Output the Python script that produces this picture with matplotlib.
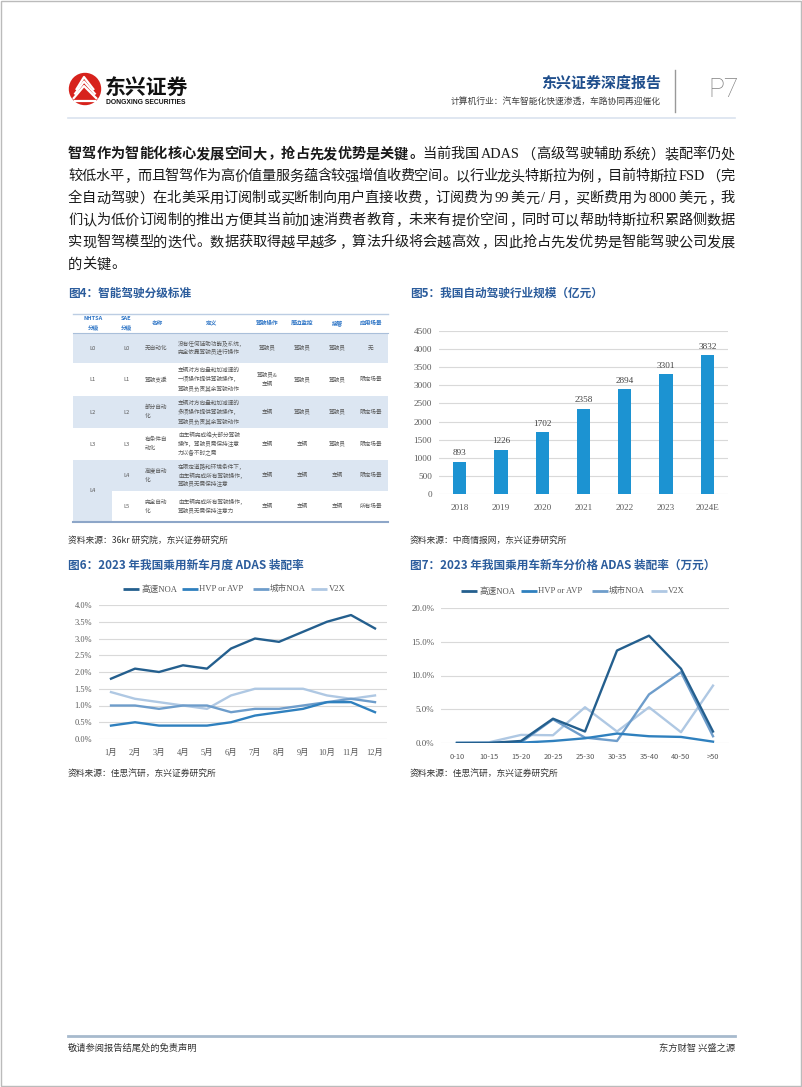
import re
import numpy as np
import matplotlib
matplotlib.use("Agg")
import matplotlib.pyplot as plt
from matplotlib.patches import Rectangle, Circle
from matplotlib.ticker import FuncFormatter

plt.rcParams['font.family'] = ['Noto Sans CJK SC', 'DejaVu Sans']
SERIF = ['Liberation Serif', 'Noto Sans CJK SC']

# --- 数据 ---
years = ['2018', '2019', '2020', '2021', '2022', '2023', '2024E']
market_size = [893, 1226, 1702, 2358, 2894, 3301, 3832]

months = ['1月', '2月', '3月', '4月', '5月', '6月', '7月', '8月', '9月', '10月', '11月', '12月']
month_noa_hw = [1.8, 2.1, 2.0, 2.2, 2.1, 2.7, 3.0, 2.9, 3.2, 3.5, 3.7, 3.3]
month_hvp = [0.4, 0.5, 0.4, 0.4, 0.4, 0.5, 0.7, 0.8, 0.9, 1.1, 1.1, 0.8]
month_noa_city = [1.0, 1.0, 0.9, 1.0, 1.0, 0.8, 0.9, 0.9, 1.0, 1.1, 1.2, 1.1]
month_v2x = [1.4, 1.2, 1.1, 1.0, 0.9, 1.3, 1.5, 1.5, 1.5, 1.3, 1.2, 1.3]

price_bins = ['0-10', '10-15', '15-20', '20-25', '25-30', '30-35', '35-40', '40-50', '>50']
price_noa_hw = [0.0, 0.0, 0.3, 3.6, 1.7, 13.7, 15.9, 11.0, 1.7]
price_hvp = [0.0, 0.0, 0.05, 0.3, 0.7, 1.4, 1.0, 0.9, 0.2]
price_noa_city = [0.0, 0.0, 0.1, 3.5, 0.8, 0.3, 7.2, 10.5, 1.0]
price_v2x = [0.0, 0.1, 1.2, 1.15, 5.3, 1.7, 5.3, 1.6, 8.5]

series_names = ['高速NOA', 'HVP or AVP', '城市NOA', 'V2X']
series_colors = ['#245F8E', '#2F80BE', '#6E9DCB', '#AFC8E3']

table_header = [['NHTSA', '分级'], ['SAE', '分级'], ['名称'], ['定义'], ['驾驶操作'], ['周边监控'], ['接管'], ['应用场景']]
table_nhtsa = ['L0', 'L1', 'L2', 'L3', 'L4', '']
table_sae = ['L0', 'L1', 'L2', 'L3', 'L4', 'L5']
table_name = [['无自动化'], ['驾驶支援'], ['部分自动', '化'], ['有条件自', '动化'], ['高度自动', '化'], ['完全自动', '化']]
table_def = [
    ['没有任何辅助功能及系统，', '完全依靠驾驶员进行操作'],
    ['车辆对方向盘和加减速的', '一项操作提供驾驶操作，', '驾驶员负责其余驾驶动作'],
    ['车辆对方向盘和加减速的', '多项操作提供驾驶操作，', '驾驶员负责其余驾驶动作'],
    ['由车辆完成绝大部分驾驶', '操作，驾驶员需保持注意', '力以备不时之需'],
    ['在限定道路和环境条件下，', '由车辆完成所有驾驶操作，', '驾驶员无需保持注意'],
    ['由车辆完成所有驾驶操作，', '驾驶员无需保持注意力'],
]
table_op = [['驾驶员'], ['驾驶员&', '车辆'], ['车辆'], ['车辆'], ['车辆'], ['车辆']]
table_mon = ['驾驶员', '驾驶员', '驾驶员', '车辆', '车辆', '车辆']
table_take = ['驾驶员', '驾驶员', '驾驶员', '驾驶员', '车辆', '车辆']
table_scene = ['无', '限定场景', '限定场景', '限定场景', '限定场景', '所有场景']

para_lines = [
    [('智驾作为智能化核心发展空间大，抢占先发优势是关键。', 'bold'), ('当前我国 ADAS（高级驾驶辅助系统）装配率仍处', 'normal')],
    [('较低水平，而且智驾作为高价值量服务蕴含较强增值收费空间。以行业龙头特斯拉为例，目前特斯拉 FSD（完', 'normal')],
    [('全自动驾驶）在北美采用订阅制或买断制向用户直接收费，订阅费为 99 美元/月，买断费用为 8000 美元，我', 'normal')],
    [('们认为低价订阅制的推出方便其当前加速消费者教育，未来有提价空间，同时可以帮助特斯拉积累路侧数据', 'normal')],
    [('实现智驾模型的迭代。数据获取得越早越多，算法升级将会越高效，因此抢占先发优势是智能驾驶公司发展', 'normal')],
    [('的关键。', 'normal')],
]

# --- 画布 ---
W, H = 802, 1087
fig = plt.figure(figsize=(W / 100, H / 100), dpi=100)
bg = fig.add_axes([0, 0, 1, 1])
bg.set_xlim(0, W)
bg.set_ylim(H, 0)
bg.axis('off')
r = fig.canvas.get_renderer()


def px_axes(x0, y0, x1, y1):
    return fig.add_axes([x0 / W, 1 - y1 / H, (x1 - x0) / W, (y1 - y0) / H])


# 页面边框
bg.add_patch(Rectangle((0.5, 0.5), W - 1.5, H - 1.5, fill=False, ec='#BBBBBB', lw=1))

# --- 页眉 ---
bg.add_patch(Circle((85, 89), 15.5, color='#D7221C'))
for k in range(3):
    dy = k * 4.5
    bg.plot([73 + k * 1.5, 84, 97 - k * 1.5], [97 - dy + 2, 82 - dy + 4, 97 - dy + 2], color='white', lw=1.6,
            solid_capstyle='butt')
bg.plot([75, 95], [101, 101], color='white', lw=1.6)
bg.text(105, 87, '东兴证券', fontsize=15, fontweight='heavy', color='#111111', va='center', ha='left')
bg.text(106, 102, 'DONGXING SECURITIES', fontsize=4.9, fontweight='bold', family='Liberation Sans',
        color='#111111', va='center', ha='left')
bg.text(661, 83, '东兴证券深度报告', fontsize=10.8, fontweight='bold', color='#1F4E8C', va='center', ha='right')
bg.text(661, 101, '计算机行业：汽车智能化快速渗透，车路协同再迎催化', fontsize=6.3, color='#404040',
        va='center', ha='right')
bg.plot([675, 675], [70, 112], color='#999999', lw=1)
bg.text(708, 90, 'P7', fontsize=19, family='Roboto', fontweight='light', color='#808080', va='center', ha='left')
bg.plot([68, 735], [118, 118], color='#DAE3EF', lw=1.2)

# --- 正文（两端对齐）---
BODY_PX = 14.2
BODY_PT = BODY_PX * 0.72
para_y = [153, 175, 197, 219, 241, 263]


def put_line(parts, yc, x0=68, x1=735, justify=True):
    items = []
    for s, w in parts:
        for tok in re.findall(r'[A-Za-z0-9]+|\S', s):
            items.append((tok, w))
    objs, widths = [], []
    yb = yc + 5.4
    for tok, w in items:
        if tok.isascii():
            t = bg.text(0, yb, tok, fontsize=BODY_PT, fontweight=w, family=SERIF, va='baseline',
                        ha='center', color='#1A1A1A')
            widths.append(t.get_window_extent(renderer=r).width + 0.3 * BODY_PX)
        else:
            t = bg.text(0, yb, tok, fontsize=BODY_PT, fontweight=w, va='baseline', ha='center', color='#1A1A1A')
            widths.append(BODY_PX)
        objs.append(t)
    gap = (x1 - x0 - sum(widths)) / (len(items) - 1) if justify else 0
    x = x0
    for (tok, w), t, wd in zip(items, objs, widths):
        if tok in '，。：、':
            t.set_ha('left')
            t.set_x(x + 0.08 * BODY_PX)
        elif tok == '（':
            t.set_ha('right')
            t.set_x(x + wd - 0.05 * BODY_PX)
        elif tok == '）':
            t.set_ha('left')
            t.set_x(x + 0.05 * BODY_PX)
        else:
            t.set_x(x + wd / 2)
        x += wd + gap


for i, parts in enumerate(para_lines):
    put_line(parts, para_y[i], justify=(i < len(para_lines) - 1))

# --- 图题 ---
CAP_COLOR = '#2B5C9C'
bg.text(68, 293, '图4：智能驾驶分级标准', fontsize=8.4, fontweight='bold', color=CAP_COLOR, va='center')
bg.text(410, 293, '图5：我国自动驾驶行业规模（亿元）', fontsize=8.4, fontweight='bold', color=CAP_COLOR, va='center')
bg.text(68, 565, '图6：2023 年我国乘用新车月度 ADAS 装配率', fontsize=8.4, fontweight='bold', color=CAP_COLOR,
        va='center')
bg.text(410, 565, '图7：2023 年我国乘用车新车分价格 ADAS 装配率（万元）', fontsize=8.4, fontweight='bold',
        color=CAP_COLOR, va='center')

SRC_KW = dict(fontsize=6.3, style='italic', color='#333333', va='center')
bg.text(68, 540, '资料来源：36kr 研究院，东兴证券研究所', **SRC_KW)
bg.text(410, 540, '资料来源：中商情报网，东兴证券研究所', **SRC_KW)
bg.text(68, 773, '资料来源：佳思汽研，东兴证券研究所', **SRC_KW)
bg.text(410, 773, '资料来源：佳思汽研，东兴证券研究所', **SRC_KW)

# --- 图4 表格 ---
T_X0, T_X1 = 73, 388
col_x = [93, 126, 157, 212, 267, 302, 337, 371]
nhtsa_right = 112
row_edges = [314, 333, 363, 396, 428, 460, 491, 522]
ROW_BG = '#DCE6F2'
CELL_PT = 4.1
LINE_GAP = 9


def cell(x, yc, lines, ha='center', color='#595959', weight='normal'):
    n = len(lines)
    for k, s in enumerate(lines):
        bg.text(x, yc + (k - (n - 1) / 2) * LINE_GAP, s, fontsize=CELL_PT, ha=ha, va='center', color=color,
                fontweight=weight)


for i in range(6):
    y0, y1 = row_edges[i + 1], row_edges[i + 2]
    if i % 2 == 0:
        bg.add_patch(Rectangle((T_X0, y0), T_X1 - T_X0, y1 - y0, color=ROW_BG, lw=0))
# 合并单元格 L4/L5
bg.add_patch(Rectangle((T_X0, row_edges[5]), nhtsa_right - T_X0, row_edges[7] - row_edges[5], color=ROW_BG, lw=0))

yc_head = (row_edges[0] + row_edges[1]) / 2
for j, h in enumerate(table_header):
    cell(col_x[j], yc_head, h, color='#2E75C6', weight='bold')

for i in range(6):
    yc = (row_edges[i + 1] + row_edges[i + 2]) / 2
    if table_nhtsa[i]:
        yy = (row_edges[5] + row_edges[7]) / 2 if table_nhtsa[i] == 'L4' else yc
        cell(col_x[0], yy, [table_nhtsa[i]])
    cell(col_x[1], yc, [table_sae[i]])
    cell(145, yc, table_name[i], ha='left')
    cell(178, yc, table_def[i], ha='left')
    cell(col_x[4], yc, table_op[i])
    cell(col_x[5], yc, [table_mon[i]])
    cell(col_x[6], yc, [table_take[i]])
    cell(col_x[7], yc, [table_scene[i]])

bg.plot([T_X0, T_X1], [row_edges[0], row_edges[0]], color='#BCCDE3', lw=1)
bg.plot([T_X0, T_X1], [row_edges[1], row_edges[1]], color='#A9BFDA', lw=0.8)
bg.plot([T_X0, T_X1], [row_edges[7], row_edges[7]], color='#8DA6C8', lw=1.5)

# --- 图5 柱状图 ---
TICK_COLOR = '#595959'
ax5 = px_axes(439, 331, 728, 494)
x5 = np.arange(len(years))
ax5.bar(x5, market_size, width=0.32, color='#1C93D2', zorder=3)
for xi, v in zip(x5, market_size):
    ax5.annotate(str(v), (xi, v), xytext=(0, 3), textcoords='offset points', ha='center', va='bottom',
                 fontsize=6.6, family=SERIF, color='#404040')
ax5.set_xlim(-0.5, len(years) - 0.5)
ax5.set_ylim(0, 4500)
ax5.set_yticks(np.arange(0, 4501, 500))
ax5.set_xticks(x5)
ax5.set_xticklabels(years)
ax5.grid(axis='y', color='#D9D9D9', lw=0.8, zorder=0)
for s in ax5.spines.values():
    s.set_visible(False)
ax5.tick_params(length=0, labelsize=6.6, labelcolor=TICK_COLOR)
ax5.tick_params(axis='y', pad=5)
ax5.tick_params(axis='x', pad=7)
for lab in ax5.get_xticklabels() + ax5.get_yticklabels():
    lab.set_family(SERIF)


def style_line_ax(ax):
    for s in ax.spines.values():
        s.set_visible(False)
    ax.grid(axis='y', color='#D9D9D9', lw=0.8, zorder=0)
    ax.tick_params(length=0, labelsize=6.0, labelcolor=TICK_COLOR)
    ax.tick_params(axis='y', pad=5)
    ax.tick_params(axis='x', pad=7)


def legend_row(xs, yc):
    for (lx, tx), name, c in zip(xs, series_names, series_colors):
        bg.plot([lx, lx + 16], [yc, yc], color=c, lw=2, solid_capstyle='butt')
        bg.text(tx, yc, name, fontsize=6.2, family=SERIF, color=TICK_COLOR, va='center', ha='left')


# --- 图6 ---
ax6 = px_axes(99, 605, 387, 739)
x6 = np.arange(len(months))
for vals, c in zip([month_v2x, month_noa_city, month_hvp, month_noa_hw], series_colors[::-1]):
    ax6.plot(x6, vals, color=c, lw=1.7, zorder=3)
ax6.set_xlim(-0.5, len(months) - 0.5)
ax6.set_ylim(0, 4.0)
ax6.set_yticks(np.arange(0, 4.01, 0.5))
ax6.yaxis.set_major_formatter(FuncFormatter(lambda v, p: f'{v:.1f}%'))
ax6.set_xticks(x6)
ax6.set_xticklabels(months)
style_line_ax(ax6)
for lab in ax6.get_xticklabels() + ax6.get_yticklabels():
    lab.set_family(SERIF)
legend_row([(123, 142), (182, 199), (253, 270), (311, 329)], 589)

# --- 图7 ---
ax7 = px_axes(441, 608, 729, 743)
x7 = np.arange(len(price_bins))
for vals, c in zip([price_v2x, price_noa_city, price_hvp, price_noa_hw], series_colors[::-1]):
    ax7.plot(x7, vals, color=c, lw=1.7, zorder=3)
ax7.set_xlim(-0.5, len(price_bins) - 0.5)
ax7.set_ylim(0, 20)
ax7.set_yticks(np.arange(0, 20.1, 5))
ax7.yaxis.set_major_formatter(FuncFormatter(lambda v, p: f'{v:.1f}%'))
ax7.set_xticks(x7)
ax7.set_xticklabels(price_bins)
style_line_ax(ax7)
ax7.tick_params(axis='x', labelsize=5.4)
for lab in ax7.get_yticklabels():
    lab.set_family(SERIF)
    lab.set_fontsize(6.4)
legend_row([(461, 479), (521, 538), (592, 609), (651, 668)], 591)

# --- 页脚 ---
bg.plot([68, 735], [1036, 1036], color='#A7BACD', lw=2)
bg.text(68, 1048, '敬请参阅报告结尾处的免责声明', fontsize=6.7, color='#333333', va='center', ha='left')
bg.text(735, 1048, '东方财智 兴盛之源', fontsize=6.7, color='#333333', va='center', ha='right')

fig.savefig('out.png', dpi=100)
